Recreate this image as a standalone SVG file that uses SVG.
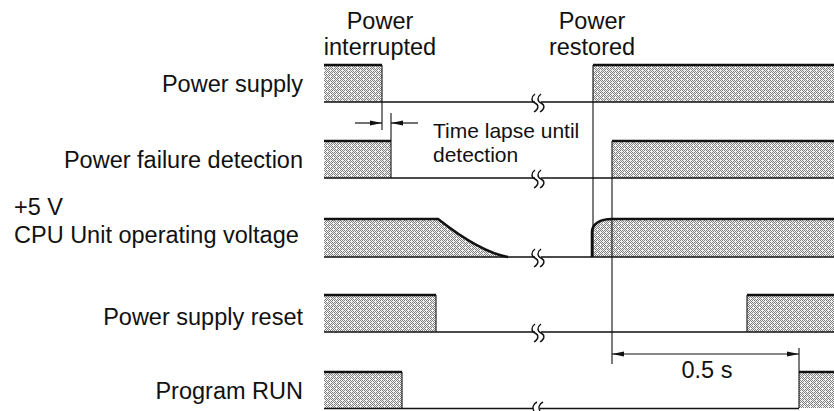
<svg xmlns="http://www.w3.org/2000/svg" width="834" height="411" viewBox="0 0 834 411">
<defs>
  <pattern id="st" width="6" height="6" patternUnits="userSpaceOnUse">
    <rect width="6" height="6" fill="#f4f4f4"/>
    <path d="M0,0h1v1h-1z M2,0h1v1h-1z M4,0h1v1h-1z M1,1h1v1h-1z M5,1h1v1h-1z M0,2h1v1h-1z M2,2h1v1h-1z M4,2h1v1h-1z M1,3h1v1h-1z M3,3h1v1h-1z M5,3h1v1h-1z M2,4h1v1h-1z M4,4h1v1h-1z M1,5h1v1h-1z M3,5h1v1h-1z M5,5h1v1h-1z" fill="#808080"/>
  </pattern>
  <path id="brk" d="M-2,-9 C-6,-6 -6,-2 -2,0 C2,2 2,6 -3,9 M4,-9 C0,-6 0,-2 4,0 C8,2 8,6 3,9" fill="none" stroke="#111" stroke-width="1.4"/>
  <marker id="ah" viewBox="0 0 12 6" refX="12" refY="3" markerWidth="12" markerHeight="6" markerUnits="userSpaceOnUse" orient="auto">
    <path d="M0,0.6 L12,3 L0,5.4 Z" fill="#111"/>
  </marker>
  <marker id="ahs" viewBox="0 0 12 6" refX="0" refY="3" markerWidth="12" markerHeight="6" markerUnits="userSpaceOnUse" orient="auto">
    <path d="M12,0.6 L0,3 L12,5.4 Z" fill="#111"/>
  </marker>
</defs>
<style>
  text { font-family: "Liberation Sans", Arial, sans-serif; fill: #111; }
  .lbl { font-size: 23.5px; }
  .r { text-anchor: end; }
  .m { text-anchor: middle; }
  .small { font-size: 21px; }
  .fill { fill: url(#st); stroke: none; }
  .top { fill: none; stroke: #111; stroke-width: 2.6; }
  .edge { fill: none; stroke: #111; stroke-width: 1.1; }
  .base { fill: none; stroke: #111; stroke-width: 1.4; }
  .brk { fill: none; stroke: #111; stroke-width: 1.4; }
  .dim { fill: none; stroke: #111; stroke-width: 1.2; }
</style>
<rect width="834" height="411" fill="#fff"/>

<g id="header-labels">
  <text class="lbl m" x="380" y="29">Power</text>
  <text class="lbl m" x="380" y="55">interrupted</text>
  <text class="lbl m" x="592" y="29">Power</text>
  <text class="lbl m" x="592" y="55">restored</text>
</g>

<g id="row-power-supply">
  <text class="lbl r" x="303" y="92">Power supply</text>
  <rect class="fill" x="324" y="65" width="58" height="37"/>
  <rect class="fill" x="593" y="65" width="241" height="37"/>
  <path class="top" d="M324,65 H382 M593,65 H834"/>
  <path class="edge" d="M382,65 V102"/>
  <path class="base" d="M324,102 H535 M541,102 H834"/>
  <use href="#brk" x="537" y="103"/>
</g>

<g id="row-power-failure-detection">
  <text class="lbl r" x="303" y="168">Power failure detection</text>
  <text class="small" x="433" y="138">Time lapse until</text>
  <text class="small" x="433" y="162">detection</text>
  <rect class="fill" x="324" y="141" width="67" height="37"/>
  <rect class="fill" x="612" y="141" width="222" height="37"/>
  <path class="top" d="M324,141 H391 M612,141 H834"/>
  <path class="edge" d="M391,141 V178"/>
  <path class="base" d="M324,178 H535 M541,178 H834"/>
  <use href="#brk" x="537" y="179"/>
</g>

<g id="row-cpu-voltage">
  <text class="lbl" x="14" y="215">+5 V</text>
  <text class="lbl" x="14" y="243">CPU Unit operating voltage</text>
  <path class="fill" d="M324,219 H438 Q480,252 508,257 H324 Z"/>
  <path class="fill" d="M592,257 V232 C592,224 600,219 612,219 H834 V257 Z"/>
  <path class="top" d="M324,219 H438 Q480,252 508,257"/>
  <path class="top" d="M592,257 V232 C592,224 600,219 612,219 H834"/>
  <path class="base" d="M324,257 H535 M541,257 H834"/>
  <use href="#brk" x="537" y="258"/>
</g>

<g id="row-power-supply-reset">
  <text class="lbl r" x="303" y="325">Power supply reset</text>
  <rect class="fill" x="324" y="295" width="112" height="37"/>
  <rect class="fill" x="747" y="295" width="87" height="37"/>
  <path class="top" d="M324,295 H436 M747,295 H834"/>
  <path class="edge" d="M436,295 V332 M747,295 V332"/>
  <path class="base" d="M324,332 H535 M541,332 H834"/>
  <use href="#brk" x="537" y="333"/>
</g>

<g id="row-program-run">
  <text class="lbl r" x="303" y="399">Program RUN</text>
  <rect class="fill" x="324" y="372" width="78" height="36"/>
  <rect class="fill" x="799" y="372" width="35" height="36"/>
  <path class="top" d="M324,372 H402 M799,372 H834"/>
  <path class="edge" d="M402,372 V408"/>
  <path class="base" d="M324,408.5 H533 M540,408.5 H799"/>
  <path class="brk" d="M537,402 C533,404 532,408 534,411 M543,402 C539,404 538,408 540,411"/>
</g>

<g id="connectors">
  <path class="edge" d="M382,102 V130"/>
  <path class="edge" d="M391,113 V141"/>
  <line class="dim" x1="355" y1="123" x2="382" y2="123" marker-end="url(#ah)"/>
  <line class="dim" x1="418" y1="123" x2="391" y2="123" marker-end="url(#ah)"/>
  <path class="edge" d="M593,65 V257"/>
  <path class="edge" d="M612,141 V364"/>
  <path class="edge" d="M799,348 V408"/>
  <line class="dim" x1="612" y1="354" x2="799" y2="354" marker-start="url(#ahs)" marker-end="url(#ah)"/>
  <text class="lbl m" x="707" y="378">0.5 s</text>
</g>
</svg>
